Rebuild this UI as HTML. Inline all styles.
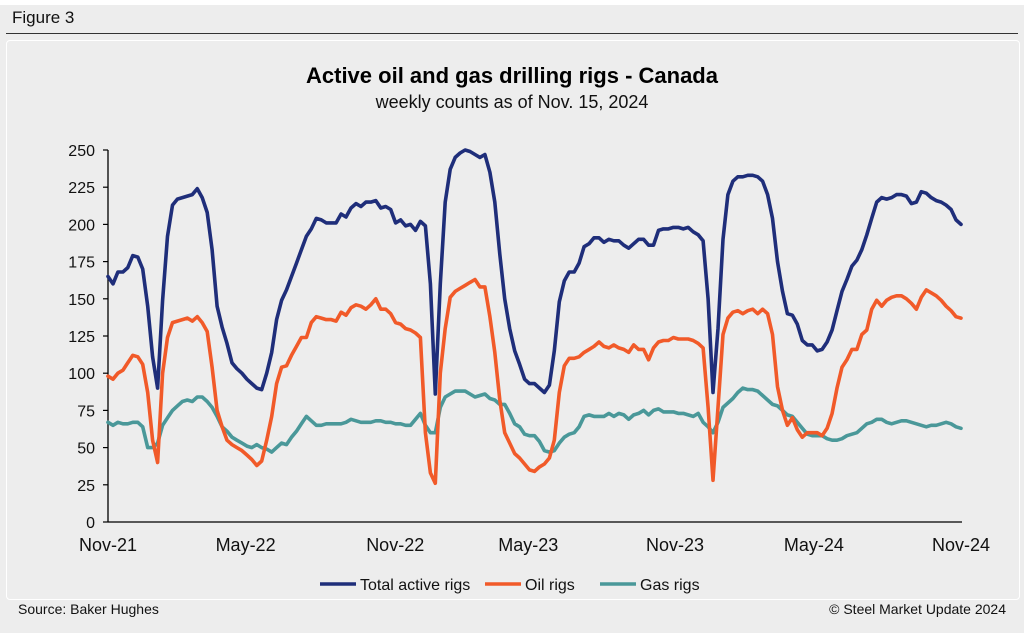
<!DOCTYPE html>
<html><head><meta charset="utf-8"><style>
html,body{margin:0;padding:0;background:#fff;}
#wrap{position:relative;width:1024px;height:633px;overflow:hidden;background:#fff;font-family:"Liberation Sans",sans-serif;}
#band{position:absolute;left:0;top:5px;width:1024px;height:628px;background:#ededed;}
#fig{position:absolute;left:12px;top:8px;font-size:17px;color:#111;}
#rule{position:absolute;left:6px;top:33px;width:1012px;height:1px;background:#333;}
#box{position:absolute;left:6px;top:40px;width:1012px;height:558px;border:1px solid #fff;border-radius:4px;}
#src{position:absolute;left:18px;top:601px;font-size:14px;color:#111;}
#cpy{position:absolute;right:18px;top:601px;font-size:14px;color:#111;}
svg{position:absolute;left:0;top:0;}
</style></head><body>
<div id="wrap">
<div id="band"></div>
<div id="fig">Figure 3</div>
<div id="rule"></div>
<div id="box"></div>
<svg id="chart" width="1024" height="633">
<text x="512" y="83" text-anchor="middle" font-size="22" font-weight="bold" fill="#000" font-family="Liberation Sans, sans-serif">Active oil and gas drilling rigs - Canada</text>
<text x="512" y="108" text-anchor="middle" font-size="18" fill="#111" font-family="Liberation Sans, sans-serif">weekly counts as of Nov. 15, 2024</text>
<g id="axes"></g><g id="series"></g><g id="legend"></g>
</svg>
<div id="src">Source: Baker Hughes</div>
<div id="cpy">© Steel Market Update 2024</div>
</div>
<script>
const yTicks=[0,25,50,75,100,125,150,175,200,225,250];
const xLabels=["Nov-21","May-22","Nov-22","May-23","Nov-23","May-24","Nov-24"];
const xLabelPos=[0,0.1613,0.3367,0.4927,0.6647,0.8275,1];
const totalRigs=[165,160,168,168,171,179,178,170,145,111,90,149,192,213,217,218,219,220,224,218,208,183,145,131,120,107,103,100,96,93,90,89,100,114,136,149,156,165,174,183,192,197,204,203,201,201,201,207,205,211,214,212,215,215,216,211,212,210,201,203,199,200,196,202,199,160,86,160,215,237,245,248,250,249,247,245,247,235,215,180,150,130,115,106,96,93,93,90,87,92,115,148,162,168,168,174,185,187,191,191,188,190,189,189,186,184,187,190,190,186,186,196,197,197,198,198,197,198,195,193,189,150,87,130,190,220,229,232,232,233,233,232,229,220,204,175,155,140,139,133,122,119,119,115,116,121,129,142,155,163,172,176,183,193,204,215,218,217,218,220,220,219,214,215,222,221,218,216,215,213,210,203,200];
const oilRigs=[98,96,100,102,107,112,111,106,87,55,40,100,124,134,135,136,137,135,138,134,128,104,75,64,55,52,50,48,45,42,38,41,55,71,93,104,105,112,118,124,124,134,138,137,136,136,135,141,139,144,146,145,143,146,150,143,143,140,134,133,130,129,127,124,60,33,26,100,130,151,155,157,159,161,163,158,158,138,114,82,60,53,46,43,39,35,34,37,39,43,55,87,105,110,110,111,114,116,118,121,118,117,119,117,116,114,119,116,116,109,117,121,122,122,124,123,123,123,122,120,117,77,28,77,126,137,141,142,140,142,143,140,143,140,126,91,75,65,70,62,57,60,60,60,58,63,73,90,104,109,116,116,126,129,143,149,145,149,151,152,152,150,147,143,151,156,154,152,149,145,142,138,137];
const gasRigs=[67,65,67,66,66,67,67,64,50,50,53,65,70,75,78,81,82,81,84,84,81,77,71,64,61,57,55,53,51,50,52,50,49,47,50,53,52,57,61,66,71,68,65,65,66,66,66,66,67,69,68,67,67,67,68,68,67,67,66,66,65,65,69,73,65,60,60,77,84,86,88,88,88,86,84,85,86,83,82,79,79,73,66,64,59,58,58,54,48,47,48,53,57,59,60,64,71,72,71,71,71,73,71,73,72,69,72,73,75,72,75,76,74,74,74,73,73,72,71,73,67,64,60,67,77,80,83,87,90,89,89,88,85,82,79,78,75,72,71,67,63,59,58,58,58,56,55,55,56,58,59,60,63,66,67,69,69,67,66,67,68,68,67,66,65,64,65,65,66,67,66,64,63];
const NS='http://www.w3.org/2000/svg';
const X0=108,X1=961,Y0=522,Y1=150,VMAX=250;
function yS(v){return Y0-(v/VMAX)*(Y0-Y1);}
function xS(i,n){return X0+(i/(n-1))*(X1-X0);}
function mk(tag,attrs,parent){const e=document.createElementNS(NS,tag);for(const k in attrs)e.setAttribute(k,attrs[k]);parent.appendChild(e);return e;}
const axes=document.getElementById('axes');
const yAxis=mk('line',{x1:X0,y1:Y1,x2:X0,y2:Y0,stroke:'#000','stroke-width':1.3},axes);


const xAxis=mk('line',{x1:X0,y1:Y0,x2:X1+1,y2:Y0,stroke:'#000','stroke-width':1.3},axes);


yTicks.forEach(v=>{
  const t=mk('line',{x1:X0-5,y1:yS(v),x2:X0,y2:yS(v),stroke:'#000','stroke-width':1.2},axes);
  
  
  const l=mk('text',{x:X0-13,y:yS(v)+6,'text-anchor':'end','font-size':16,fill:'#111','font-family':'Liberation Sans, sans-serif'},axes);
  l.textContent=v;
  
  
});
xLabels.forEach((s,i)=>{
  const l=mk('text',{x:X0+xLabelPos[i]*(X1-X0),y:551,'text-anchor':'middle','font-size':18,fill:'#111','font-family':'Liberation Sans, sans-serif'},axes);
  l.textContent=s;
  
  
});
const ser=document.getElementById('series');
function drawLine(arr,color,name){
  const n=arr.length;
  const d=arr.map((v,i)=>(i?'L':'M')+xS(i,n).toFixed(1)+','+yS(v).toFixed(1)).join('');
  const p=mk('path',{d:d,fill:'none',stroke:color,'stroke-width':3.6,'stroke-linejoin':'round','stroke-linecap':'round'},ser);
  
  
}
drawLine(gasRigs,'#4a9899','gas-rigs-line');
drawLine(oilRigs,'#f15a29','oil-rigs-line');
drawLine(totalRigs,'#1f2e7a','total-rigs-line');
const lg=document.getElementById('legend');
[['Total active rigs','#1f2e7a',320],['Oil rigs','#f15a29',485],['Gas rigs','#4a9899',600]].forEach(e=>{
  const g=mk('g',{},lg);
  
  
  mk('line',{x1:e[2],y1:584,x2:e[2]+36,y2:584,stroke:e[1],'stroke-width':3.6},g);
  const t=mk('text',{x:e[2]+40,y:590,'font-size':16,fill:'#111','font-family':'Liberation Sans, sans-serif'},g);
  t.textContent=e[0];
});
</script>
</body></html>
